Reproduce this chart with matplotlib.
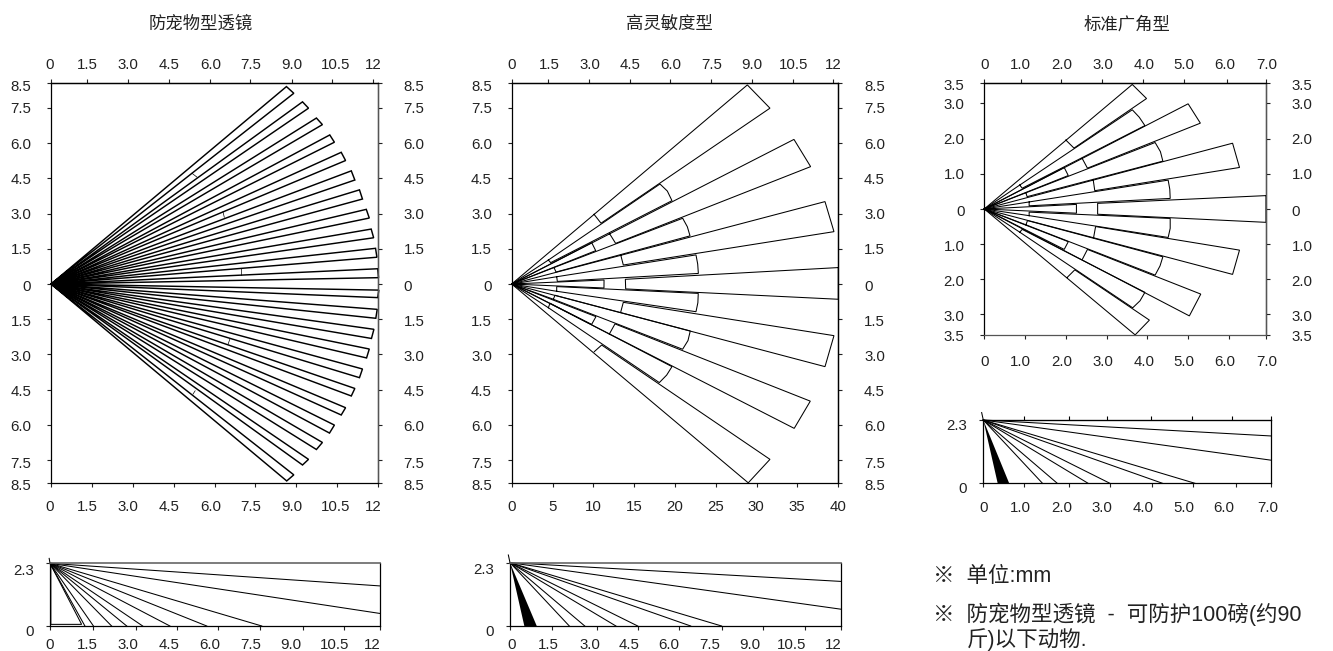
import matplotlib
matplotlib.use("Agg")
import matplotlib.pyplot as plt
from matplotlib.transforms import ScaledTranslation

plt.rcParams['font.family'] = ['Liberation Sans', 'Noto Sans CJK SC', 'DejaVu Sans']

# titles and tick labels
titles = ['防宠物型透镜', '高灵敏度型', '标准广角型']
labels_m = ['0', '1.5', '3.0', '4.5', '6.0', '7.5', '9.0', '10.5', '12']
labels_40 = ['0', '5', '10', '15', '20', '25', '30', '35', '40']
labels_7 = ['0', '1.0', '2.0', '3.0', '4.0', '5.0', '6.0', '7.0']
labels_y85 = ['8.5', '7.5', '6.0', '4.5', '3.0', '1.5', '0', '1.5', '3.0', '4.5', '6.0', '7.5', '8.5']
labels_y35 = ['3.5', '3.0', '2.0', '1.0', '0', '1.0', '2.0', '3.0', '3.5']
labels_h = ['2.3', '0']

# tick positions
y85 = [8.55, 7.5, 6, 4.5, 3, 1.5, 0, -1.5, -3, -4.5, -6, -7.5, -8.49]
y85_lab = [8.45, 7.5, 6, 4.5, 3, 1.5, -0.07, -1.57, -3.04, -4.54, -6.03, -7.6, -8.53]
y35 = [3.573, 3, 2, 1, 0, -1, -2, -3, -3.583]
y35_lab = [3.55, 3, 2, 1, -0.05, -1.05, -2.03, -3.02, -3.61]
x1_bottom = [0, 1.5, 3, 4.5, 6, 7.5, 9, 10.5, 12]
x1_top = [0, 1.31, 2.82, 4.33, 5.82, 7.32, 8.85, 10.32, 11.83]
x1_lab = [-0.04, 1.34, 2.84, 4.34, 5.85, 7.34, 8.82, 10.44, 11.83]
x2_bottom = [0, 5, 10, 15, 20, 25, 30, 35, 40]
x2_bottom_lab = [0, 4.94, 9.96, 14.98, 20, 25, 29.9, 34.94, 39.94]
x2_top = [0, 4.48, 9.47, 14.49, 19.39, 24.4, 29.39, 34.49, 39.39]
x2_top_lab = [0, 4.57, 9.59, 14.49, 19.51, 24.49, 29.39, 34.49, 39.39]
x3_bottom = [0, 1.01, 2, 3, 4, 5, 6.01, 6.91]
x3_top = [0, 0.89, 1.89, 2.89, 3.9, 4.9, 5.96, 6.91]
x3_lab = [0, 0.89, 1.91, 2.9, 3.92, 4.9, 5.9, 6.94]

# chart 1: narrow beams, two far corners each
pet_beams = [
    [(8.64, 8.41), (8.91, 8.125)], [(9.23, 7.76), (9.45, 7.49)],
    [(9.74, 7.07), (9.96, 6.79)], [(10.23, 6.35), (10.40, 6.04)],
    [(10.65, 5.61), (10.81, 5.26)], [(11.02, 4.82), (11.15, 4.43)],
    [(11.32, 4.01), (11.43, 3.62)], [(11.57, 3.18), (11.68, 2.81)],
    [(11.75, 2.34), (11.84, 1.97)], [(11.91, 1.52), (11.96, 1.14)],
    [(11.99, 0.65), (12.02, 0.27)], [(12.03, -0.26), (11.99, -0.58)],
    [(11.97, -1.08), (11.92, -1.46)], [(11.85, -1.93), (11.76, -2.32)],
    [(11.68, -2.77), (11.58, -3.15)], [(11.43, -3.62), (11.32, -3.99)],
    [(11.15, -4.45), (11.02, -4.77)], [(10.81, -5.27), (10.65, -5.58)],
    [(10.40, -6.01), (10.22, -6.35)], [(9.96, -6.75), (9.74, -7.05)],
    [(9.45, -7.47), (9.23, -7.71)], [(8.91, -8.13), (8.65, -8.39)],
]
pet_marks = [
    [(5.17, 4.72), (5.36, 4.55)], [(6.31, 3.08), (6.36, 2.84)],
    [(6.97, 0.67), (6.97, 0.38)], [(6.56, -2.36), (6.50, -2.56)],
    [(5.29, -4.55), (5.21, -4.69)],
]

# chart 2: far zones (outer corner, inner corner, cap inner, cap outer)
sens_far = [
    [(28.86, 8.48), (31.63, 7.49), (10.94, 2.59), (10.08, 2.97)],
    [(34.57, 6.16), (36.61, 5.0), (12.73, 1.73), (11.96, 2.16)],
    [(38.37, 3.51), (39.47, 2.23), (13.67, 0.81), (13.35, 1.24)],
    [(38.37, -3.52), (39.47, -2.2), (13.67, -0.78), (13.34, -1.21)],
    [(34.6, -6.15), (36.57, -4.99), (12.65, -1.7), (11.96, -2.13)],
    [(28.97, -8.47), (31.63, -7.47), (11.02, -2.6), (10.12, -2.88)],
]
# middle zones (near outer, far outer, arc middle, far inner, near inner)
sens_mid = [
    [(4.49, 1.02), (18.16, 4.26), (19.06, 3.96), (19.63, 3.55), (4.78, 0.91)],
    [(5.18, 0.7), (20.94, 2.8), (21.51, 2.44), (21.84, 2.05), (5.43, 0.51)],
    [(5.51, 0.31), (22.57, 1.24), (22.78, 0.85), (22.86, 0.45), (5.59, 0.11)],
    [(5.51, -0.31), (22.57, -1.18), (22.8, -0.8), (22.85, -0.4), (5.51, -0.11)],
    [(5.1, -0.65), (20.93, -2.78), (21.59, -2.41), (21.87, -2.0), (5.3, -0.48)],
    [(4.49, -1.01), (18.08, -4.2), (18.98, -3.88), (19.63, -3.52), (4.69, -0.82)],
]
sens_near = [
    [(9.8, 1.76), (10.29, 1.42)], [(10.32, -1.39), (9.79, -1.72)],
    [(11.31, 0.17), (11.3, -0.17)],
]
sens_center = [(40, 0.7), (40, -0.65), (13.96, -0.21), (13.92, 0.2)]

# chart 3
wide_far = [
    [(3.63, 3.54), (3.98, 3.14), (2.20, 1.73), (2.0, 1.96)],
    [(5.0, 2.99), (5.30, 2.44), (2.53, 1.16), (2.40, 1.44)],
    [(6.09, 1.87), (6.26, 1.18), (2.71, 0.52), (2.67, 0.84)],
    [(6.09, -1.86), (6.26, -1.17), (2.73, -0.50), (2.68, -0.82)],
    [(5.03, -3.04), (5.31, -2.42), (2.53, -1.15), (2.41, -1.42)],
    [(3.70, -3.58), (4.05, -3.16), (2.22, -1.73), (2.03, -1.95)],
]
wide_mid = [
    [(0.87, 0.68), (3.63, 2.82), (3.80, 2.61), (3.94, 2.37), (0.93, 0.59)],
    [(1.02, 0.46), (4.19, 1.89), (4.32, 1.63), (4.38, 1.36), (1.05, 0.35)],
    [(1.10, 0.20), (4.51, 0.82), (4.55, 0.56), (4.56, 0.30), (1.10, 0.09)],
    [(1.10, -0.19), (4.51, -0.81), (4.56, -0.55), (4.56, -0.27), (1.10, -0.09)],
    [(1.02, -0.45), (4.19, -1.88), (4.31, -1.62), (4.38, -1.36), (1.06, -0.33)],
    [(0.87, -0.66), (3.64, -2.81), (3.82, -2.61), (3.94, -2.37), (0.93, -0.58)],
]
wide_near = [
    [(1.96, 1.18), (2.06, 0.95)], [(2.06, -0.93), (1.96, -1.15)],
    [(2.26, 0.13), (2.26, -0.12)],
]
wide_center = [(6.91, 0.38), (6.91, -0.38), (2.78, -0.15), (2.78, 0.16)]

# side views: floor hits and right edge heights
h1_ticks = [0, 1.58, 3.13, 4.61, 6.12, 7.64, 9.19, 10.69, 12]
h1_lab = [0, 1.36, 2.85, 4.33, 5.82, 7.3, 8.76, 10.36, 11.73]
h1_floor = [1.27, 1.58, 2.24, 2.79, 3.37, 4.36, 5.70, 7.70]
h1_edge = [1.47, 0.46]
h1_box = [(0.03, 2.3), (0.03, 0.06), (1.15, 0.06), (0, 2.3)]

h2_ticks = [0, 1.51, 3.14, 4.63, 6.13, 7.70, 9.18, 10.69, 12]
h2_lab = [0.06, 1.39, 2.88, 4.33, 5.74, 7.25, 8.7, 10.21, 11.72]
h2_floor = [2.15, 2.71, 3.84, 4.63, 6.55, 7.67]
h2_edge = [1.62, 0.61]
h2_black = [0.52, 0.97]

h3_ticks = [0, 1.0, 2.08, 3.08, 4.1, 5.11, 6.15, 7]
h3_top = [1.0, 2.08, 3.0, 4.07, 5.07, 6.04, 7]
h3_lab = [0.02, 0.91, 1.92, 2.89, 3.89, 4.87, 5.86, 6.92]
h3_floor = [1.44, 1.8, 2.55, 3.08, 4.36, 5.15]
h3_edge = [1.72, 0.84]
h3_black = [0.35, 0.63]

W, H = 1333, 651
FS = 10.8
fig = plt.figure(figsize=(W / 100, H / 100), dpi=100)


def make_axes(left, right, top, bottom, xlim, ylim):
    ax = fig.add_axes([left / W, 1 - bottom / H, (right - left) / W, (bottom - top) / H])
    ax.set_xlim(*xlim)
    ax.set_ylim(*ylim)
    for s in ax.spines.values():
        s.set_linewidth(0.9)
    return ax


def set_ticks(parent, axis, ticks, label_pos, labels, pad, length=3.2):
    # the labels in the original are not quite centred on the tick marks
    xlim, ylim = parent.get_xlim(), parent.get_ylim()
    axis.set_ticks(ticks, labels=labels)
    axis.set_tick_params(which='major', length=length, width=0.8, color='#222222',
                         pad=pad, labelsize=FS, labelcolor='#222222')
    parent.set_xlim(xlim)
    parent.set_ylim(ylim)
    is_x = axis.axis_name == 'x'
    if is_x:
        scale = parent.bbox.width / (xlim[1] - xlim[0])
    else:
        scale = parent.bbox.height / (ylim[1] - ylim[0])
    for tick, t, p in zip(axis.get_major_ticks(), ticks, label_pos):
        d = (p - t) * scale / fig.dpi
        shift = ScaledTranslation(d, 0, fig.dpi_scale_trans) if is_x else ScaledTranslation(0, d, fig.dpi_scale_trans)
        for lab in (tick.label1, tick.label2):
            lab.set_transform(lab.get_transform() + shift)


def main_axes(ax, bot, bot_lab, bot_txt, top, top_lab, yt, yt_lab, ylabels, bot_pad=8.6):
    set_ticks(ax, ax.xaxis, bot, bot_lab, bot_txt, bot_pad)
    set_ticks(ax, ax.yaxis, yt, yt_lab, ylabels, 11)
    sx = ax.secondary_xaxis('top')
    set_ticks(ax, sx.xaxis, top, top_lab, labels_m if len(top) == 9 else labels_7, 5.1)
    sy = ax.secondary_yaxis('right')
    set_ticks(ax, sy.yaxis, yt, yt_lab, ylabels, 15.3)
    for sec in (sx, sy):
        for s in sec.spines.values():
            s.set_linewidth(0.9)


def line(ax, pts, lw=0.75, color='black'):
    ax.plot([p[0] for p in pts], [p[1] for p in pts], color=color, lw=lw,
            solid_joinstyle='miter', clip_on=False)


def draw_fan(ax, far, mid, near, center):
    o = (0, 0)
    for b in far:
        line(ax, [o, b[0], b[1], b[2], b[3]])
    for b in mid:
        line(ax, [o] + b[:1])
        line(ax, b + b[:1])
    for b in near:
        line(ax, [o, b[0], b[1], o])
    line(ax, center + center[:1])


def draw_side(ax, floor, edge, xmax, black=None):
    apex = (0, 2.3)
    for x in floor:
        line(ax, [apex, (x, 0)])
    for y in edge:
        line(ax, [apex, (xmax, y)])
    if black:
        ax.fill([0, black[0], black[1]], [2.3, 0, 0], color='black', lw=0)


# chart 1
ax1 = make_axes(51, 378, 83.3, 483.3, (0, 12), (-8.49, 8.55))
main_axes(ax1, x1_bottom, x1_lab, labels_m, x1_top, x1_lab, y85, y85_lab, labels_y85)
for a, b in pet_beams:
    line(ax1, [(0, 0), a, b, (0, 0)], lw=1.05)
for m in pet_marks:
    line(ax1, m, lw=0.5)
ax1.spines['right'].set_color('#555555')

# chart 2
ax2 = make_axes(511.7, 838.3, 83.3, 483.3, (0, 40), (-8.49, 8.55))
main_axes(ax2, x2_bottom, x2_bottom_lab, labels_40, x2_top, x2_top_lab, y85, y85_lab, labels_y85)
draw_fan(ax2, sens_far, sens_mid, sens_near, sens_center)

# chart 3
ax3 = make_axes(984.3, 1266, 83.3, 335, (0, 6.91), (-3.583, 3.573))
main_axes(ax3, x3_bottom, x3_lab, labels_7, x3_top, x3_lab, y35, y35_lab, labels_y35, bot_pad=11.1)
draw_fan(ax3, wide_far, wide_mid, wide_near, wide_center)
ax3.spines['right'].set_color('#555555')
ax3.spines['bottom'].set_color('#555555')

# side views
ax1s = make_axes(50, 380, 563.3, 626, (0, 12), (0, 2.3))
set_ticks(ax1s, ax1s.xaxis, h1_ticks, h1_lab, labels_m, 5.6)
set_ticks(ax1s, ax1s.yaxis, [2.3, 0], [2.08, -0.15], labels_h, 8.6)
draw_side(ax1s, h1_floor, h1_edge, 12)
line(ax1s, h1_box)
line(ax1s, [(0, 2.3), (-0.03, 2.48)])
ax1s.spines['top'].set_color('#666666')
ax1s.spines['top'].set_linewidth(1.2)

ax2s = make_axes(510, 841, 562.7, 626, (0, 12), (0, 2.3))
set_ticks(ax2s, ax2s.xaxis, h2_ticks, h2_lab, labels_m, 5.6)
set_ticks(ax2s, ax2s.yaxis, [2.3, 0], [2.1, -0.15], labels_h, 8.6)
draw_side(ax2s, h2_floor, h2_edge, 12, h2_black)
line(ax2s, [(0, 2.3), (-0.06, 2.58)])
ax2s.spines['top'].set_color('#666666')
ax2s.spines['top'].set_linewidth(1.2)

ax3s = make_axes(983.3, 1271, 420, 483.3, (0, 7), (0, 2.3))
set_ticks(ax3s, ax3s.xaxis, h3_ticks, h3_lab, labels_7, 9.6)
set_ticks(ax3s, ax3s.yaxis, [2.3, 0], [2.15, -0.145], labels_h, 8.6)
sx3 = ax3s.secondary_xaxis('top')
sx3.set_xticks(h3_top)
sx3.set_xticklabels([])
sx3.tick_params(length=3.2, width=0.8)
ax3s.set_xlim(0, 7)
draw_side(ax3s, h3_floor, h3_edge, 7, h3_black)
line(ax3s, [(0, 2.3), (-0.04, 2.57)])

# titles and notes
title_x = [201, 669, 1127]
for t, x in zip(titles, title_x):
    fig.text(x / W, 1 - 24 / H, t, ha='center', va='center', fontsize=12.5, color='#222222')

notes = [
    ('※  单位:mm', 933, 577),
    ('※  防宠物型透镜  -  可防护100磅(约90', 933, 614),
    ('斤)以下动物.', 967, 640),
]
for t, x, y in notes:
    fig.text(x / W, 1 - y / H, t, ha='left', va='center', fontsize=15.5, color='#222222')

fig.savefig('out.png', dpi=100)
